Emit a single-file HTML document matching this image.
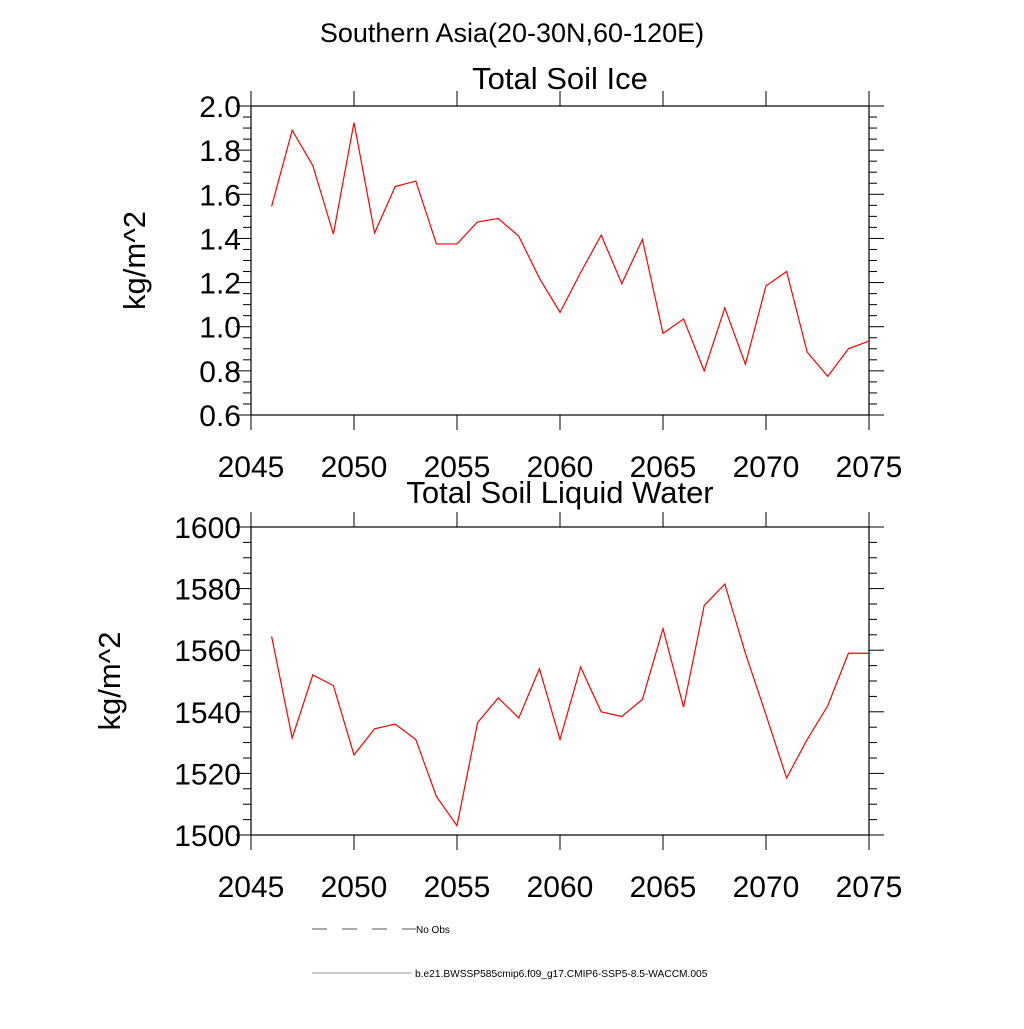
<!DOCTYPE html>
<html><head><meta charset="utf-8"><style>
body{margin:0;background:#fff}
svg text{font-family:"Liberation Sans",sans-serif;fill:#000}
</style></head><body>
<svg id="c" width="1024" height="1024" viewBox="0 0 1024 1024">
<text x="512" y="42" font-size="27" text-anchor="middle">Southern Asia(20-30N,60-120E)</text>
<g id="g1"></g><g id="g2"></g>
<g>
<line x1="312" y1="929" x2="416" y2="929" stroke="#555" stroke-width="1" stroke-dasharray="15,15"/>
<text x="416" y="933" font-size="10">No Obs</text>
<line x1="312" y1="973" x2="412" y2="973" stroke="#999" stroke-width="1"/>
<text x="415" y="977" font-size="10.2">b.e21.BWSSP585cmip6.f09_g17.CMIP6-SSP5-8.5-WACCM.005</text>
</g>
</svg>
<script>
const years=[2046,2047,2048,2049,2050,2051,2052,2053,2054,2055,2056,2057,2058,2059,2060,2061,2062,2063,2064,2065,2066,2067,2068,2069,2070,2071,2072,2073,2074,2075];
const iceVals=[1.545,1.89,1.73,1.42,1.925,1.425,1.635,1.66,1.375,1.375,1.475,1.49,1.41,1.22,1.065,1.245,1.415,1.195,1.395,0.97,1.035,0.8,1.085,0.83,1.185,1.25,0.885,0.775,0.9,0.935];
const liqVals=[1564.5,1531.5,1552,1548.5,1526,1534.5,1536,1531,1512.5,1503,1536.5,1544.5,1538,1554,1531,1554.5,1540,1538.5,1544,1567,1541.5,1574.5,1581.5,1559,1539,1518.5,1531,1542,1559,1559];
const xTicks=[2045,2050,2055,2060,2065,2070,2075];
const iceTicks=["0.6","0.8","1.0","1.2","1.4","1.6","1.8","2.0"];
const liqTicks=["1500","1520","1540","1560","1580","1600"];
const NS="http://www.w3.org/2000/svg";
function mk(p,t,a){const e=document.createElementNS(NS,t);for(const k in a)e.setAttribute(k,a[k]);p.appendChild(e);return e;}
function panel(gid,top,bot,ymin,ymax,ticks,minorStep,vals,title,nameP,titleOff,ytX){
 const g=document.getElementById(gid);const L=251,R=869;
 const X=v=>L+(v-2045)/(2075-2045)*(R-L);
 const Y=v=>bot-(v-ymin)/(ymax-ymin)*(bot-top);
 const fr=mk(g,'rect',{x:L,y:top,width:R-L,height:bot-top,fill:'none',stroke:'#000','stroke-width':1.2});
 
 
 for(let y=2045;y<=2075;y+=5){
  mk(g,'line',{x1:X(y),x2:X(y),y1:top,y2:top-15,stroke:'#000'});
  mk(g,'line',{x1:X(y),x2:X(y),y1:bot,y2:bot+15,stroke:'#000'});}
 xTicks.forEach(t=>{const e=mk(g,'text',{x:X(t),y:bot+62,'font-size':30,'text-anchor':'middle'});e.textContent=t;
  
  });
 for(let v=ymin;v<=ymax+1e-9;v+=minorStep){const maj=ticks.some(t=>Math.abs(+t-v)<1e-6);const len=maj?15:8;
  mk(g,'line',{x1:L,x2:L-len,y1:Y(v),y2:Y(v),stroke:'#000'});
  mk(g,'line',{x1:R,x2:R+len,y1:Y(v),y2:Y(v),stroke:'#000'});}
 ticks.forEach(t=>{const e=mk(g,'text',{x:L-10,y:Y(+t)+11,'font-size':30,'text-anchor':'end'});e.textContent=t;
  
  });
 const yt=mk(g,'text',{x:0,y:0,'font-size':31,'text-anchor':'middle',transform:`translate(${ytX},${(top+bot)/2}) rotate(-90)`});yt.textContent='kg/m^2';
 
 
 const tt=mk(g,'text',{x:(L+R)/2,y:top-titleOff,'font-size':31,'text-anchor':'middle'});tt.textContent=title;
 
 
 const pts=vals.map((v,i)=>X(years[i])+','+Y(v)).join(' ');
 const pl=mk(g,'polyline',{points:pts,fill:'none',stroke:'#ff0000','stroke-width':1.2});
 
 
}
panel('g1',106,415,0.6,2.0,iceTicks,0.05,iceVals,'Total Soil Ice','ice',17,145);
panel('g2',527,835,1500,1600,liqTicks,5,liqVals,'Total Soil Liquid Water','liquid',24,120);
</script>
</body></html>
